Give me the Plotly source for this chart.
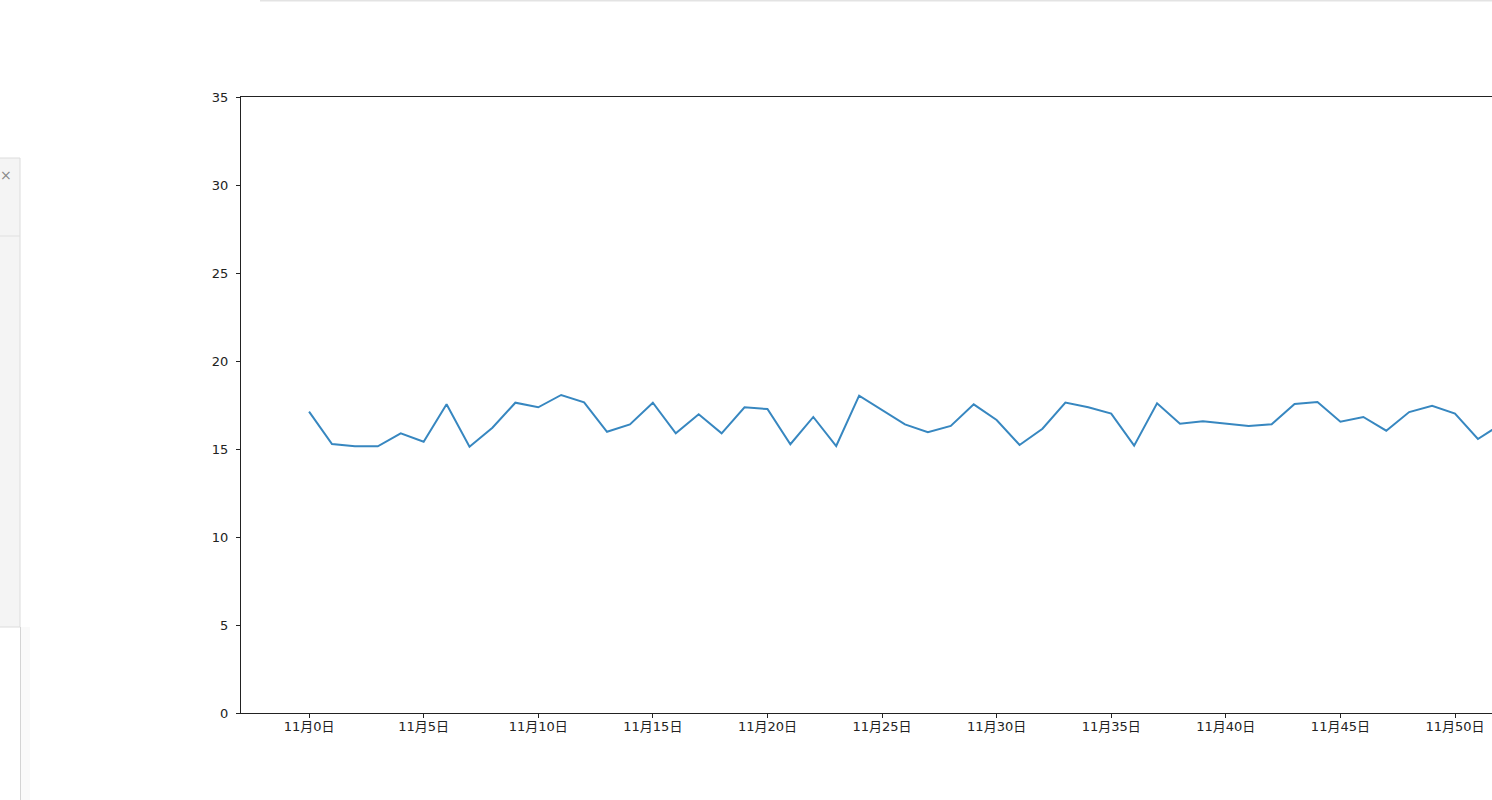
import plotly.graph_objects as go

# Data
day_index = list(range(53))
values = [17.12, 15.28, 15.15, 15.15, 15.89, 15.41, 17.54, 15.13, 16.21, 17.63,
          17.37, 18.07, 17.65, 15.98, 16.40, 17.63, 15.89, 16.97, 15.89, 17.37,
          17.27, 15.27, 16.82, 15.17, 18.03, 17.22, 16.40, 15.95, 16.31, 17.54,
          16.65, 15.23, 16.15, 17.64, 17.37, 17.01, 15.19, 17.60, 16.44, 16.57,
          16.46, 16.31, 16.40, 17.56, 17.67, 16.55, 16.82, 16.04, 17.10, 17.46,
          17.01, 15.57, 16.40]
tick_positions = list(range(0, 55, 5))
tick_labels = [f"11月{d}日" for d in tick_positions]
y_ticks = [0, 5, 10, 15, 20, 25, 30, 35]

W, H = 1492, 800
L, R, T, B = 241, 0, 97, 87
pw, ph = W - L - R, H - T - B

def px(x):
    return (x - L) / pw

def py(y):
    return (H - B - y) / ph

fig = go.Figure()
fig.add_trace(go.Scatter(
    x=day_index, y=values, mode="lines",
    line=dict(color="#3787c0", width=2),
    showlegend=False, hoverinfo="skip",
))

font = dict(family="DejaVu Sans, Noto Sans CJK SC, sans-serif", size=13, color="#222222")

fig.update_layout(
    width=W, height=H,
    margin=dict(l=L, r=R, t=T, b=B, pad=0),
    paper_bgcolor="white", plot_bgcolor="white",
    font=font,
    xaxis=dict(
        range=[-2.97, (1492 - 309) / 22.92],
        tickvals=tick_positions, ticktext=tick_labels,
        ticks="outside", ticklen=4, tickwidth=1, tickcolor="#222222",
        showline=True, linecolor="#222222", linewidth=1, mirror=True,
        showgrid=False, zeroline=False, tickfont=font,
        ticklabelstandoff=-3,
    ),
    yaxis=dict(
        range=[0, 35], tickvals=y_ticks,
        ticks="outside", ticklen=4, tickwidth=1, tickcolor="#222222",
        showline=True, linecolor="#222222", linewidth=1, mirror=False,
        showgrid=False, zeroline=False, tickfont=font,
        ticklabelstandoff=5,
    ),
)

# Screenshot UI artifacts around the chart
shapes = [
    dict(type="line", xref="paper", yref="paper", x0=px(260), x1=px(1500), y0=py(0.5), y1=py(0.5),
         line=dict(color="#e3e3e3", width=2)),
    dict(type="rect", xref="paper", yref="paper", x0=px(-2), x1=px(20), y0=py(158), y1=py(627),
         fillcolor="#f4f4f4", line=dict(color="#dcdcdc", width=1)),
    dict(type="line", xref="paper", yref="paper", x0=px(0), x1=px(20), y0=py(236), y1=py(236),
         line=dict(color="#e0e0e0", width=1)),
    dict(type="rect", xref="paper", yref="paper", x0=px(21), x1=px(30), y0=py(627), y1=py(800),
         fillcolor="#fafafa", line=dict(width=0)),
    dict(type="line", xref="paper", yref="paper", x0=px(20.5), x1=px(20.5), y0=py(627), y1=py(800),
         line=dict(color="#d4d4d4", width=1)),
]
fig.update_layout(shapes=shapes)
fig.add_annotation(
    xref="paper", yref="paper", x=px(6), y=py(175), text="×", showarrow=False,
    font=dict(family="DejaVu Sans", size=14, color="#888888"), xanchor="center", yanchor="middle",
)

fig.write_html(
    "out.html",
    config={"displayModeBar": False},
    post_script="document.body.style.margin='0';document.body.style.overflow='hidden';",
)
